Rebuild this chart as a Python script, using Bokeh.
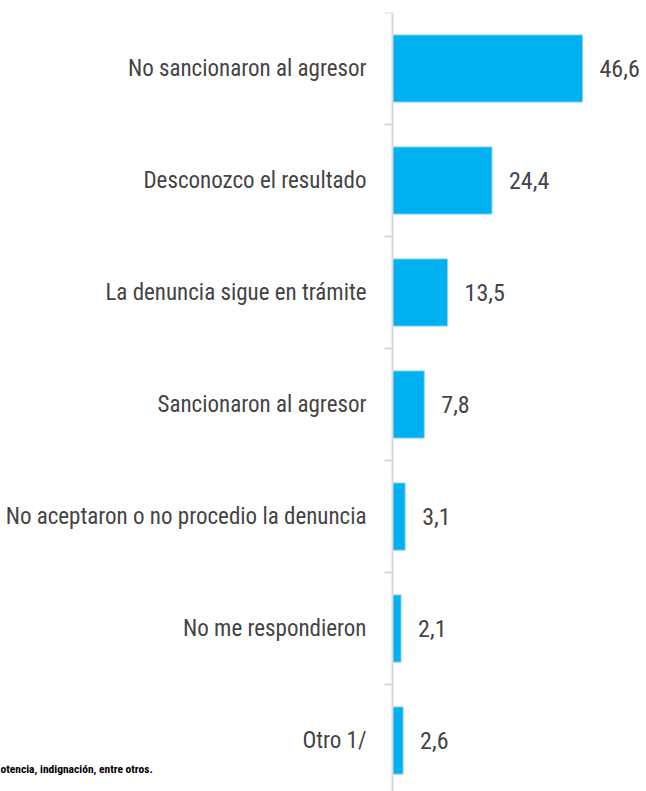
from bokeh.plotting import figure
from bokeh.models import Range1d, FixedTicker, Label
from bokeh.core.properties import value
from bokeh.embed import file_html
from bokeh.resources import INLINE

categories = [
    "No sancionaron al agresor",
    "Desconozco el resultado",
    "La denuncia sigue en trámite",
    "Sancionaron al agresor",
    "No aceptaron o no procedio la denuncia",
    "No me respondieron",
    "Otro 1/",
]
values = [46.6, 24.4, 13.5, 7.8, 3.1, 2.1, 2.6]
value_labels = ["46,6", "24,4", "13,5", "7,8", "3,1", "2,1", "2,6"]
footnote = "otencia,  indignación, entre otros."

n = len(categories)
ypos = [n - 1 - i for i in range(n)]

FONT = "'Liberation Sans Narrow', 'Roboto Condensed', Roboto, sans-serif"
TXT = "#444444"

# frame spans the whole canvas; the category axis sits at x = 0 inside it
p = figure(width=646, height=791, output_backend="svg", toolbar_location=None,
           x_range=Range1d(-96.15, 62.3), y_range=Range1d(-0.455, 6.5),
           x_axis_location=None,
           min_border_left=0, min_border_right=0, min_border_top=12, min_border_bottom=0)
p.outline_line_color = None
p.xgrid.visible = False
p.ygrid.visible = False
p.background_fill_color = "white"
p.border_fill_color = "white"

p.hbar(y=ypos, right=values, left=0, height=0.6, fill_color="#00b0f0",
       line_color="#8fd6f5", line_width=1)

p.text(x=values, y=ypos, text=value_labels, x_offset=17, text_baseline="middle",
       text_align="left", text_font_size="24px", text_color=TXT, text_font=value(FONT))

ax = p.yaxis[0]
ax.fixed_location = 0
ax.ticker = FixedTicker(ticks=ypos, minor_ticks=[k + 0.5 for k in range(-1, n)])
ax.major_label_overrides = {y: c for y, c in zip(ypos, categories)}
ax.major_tick_line_color = None
ax.major_tick_out = 0
ax.major_tick_in = 0
ax.minor_tick_out = 8
ax.minor_tick_in = 0
ax.minor_tick_line_color = "#d9d9d9"
ax.minor_tick_line_width = 2
ax.axis_line_color = "#d9d9d9"
ax.axis_line_width = 2
ax.major_label_standoff = 18
ax.major_label_text_font = FONT
ax.major_label_text_font_size = "23px"
ax.major_label_text_color = TXT

p.add_layout(Label(x=0, y=23, x_units="screen", y_units="screen", text=footnote,
                   text_font=FONT, text_font_style="bold", text_font_size="11.5px",
                   text_color="black", text_baseline="middle"))

open("out.html", "w").write(file_html(p, INLINE))
